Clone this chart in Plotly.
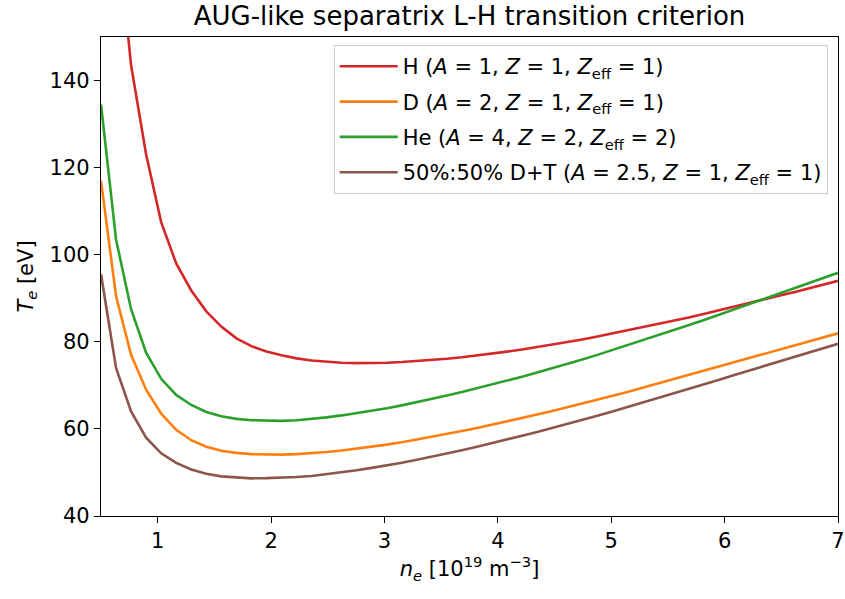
import numpy as np
import plotly.graph_objects as go

# Separatrix density grid [1e19 m^-3]
n_e = np.linspace(0.5, 7.0, 50)

# Threshold separatrix temperature [eV] for each species
te_H = [230.0, 178.0, 143.5, 123.0, 107.5, 98.0, 91.8, 87.0, 83.5, 80.8,
        79.0, 77.8, 76.9, 76.2, 75.7, 75.4, 75.2, 75.1, 75.1, 75.2,
        75.35, 75.55, 75.8, 76.1, 76.45, 76.85, 77.3, 77.75, 78.25, 78.8,
        79.35, 79.95, 80.55, 81.2, 81.9, 82.6, 83.3, 84.05, 84.8, 85.55,
        86.35, 87.15, 87.95, 88.8, 89.65, 90.5, 91.35, 92.25, 93.1, 94.0]

te_D = [117.0, 90.5, 77.0, 69.0, 63.5, 59.8, 57.4, 55.9, 55.0, 54.5,
        54.2, 54.1, 54.1, 54.2, 54.4, 54.7, 55.05, 55.45, 55.9, 56.4,
        56.95, 57.55, 58.15, 58.8, 59.5, 60.2, 60.95, 61.7, 62.5, 63.3,
        64.1, 64.95, 65.8, 66.7, 67.6, 68.5, 69.45, 70.4, 71.35, 72.3,
        73.25, 74.2, 75.2, 76.15, 77.1, 78.1, 79.05, 80.0, 81.0, 81.95]

te_He = [134.5, 103.5, 87.5, 77.5, 71.5, 67.8, 65.5, 63.9, 62.9, 62.3,
         62.0, 61.85, 61.85, 62.0, 62.3, 62.65, 63.1, 63.6, 64.15, 64.75,
         65.4, 66.1, 66.85, 67.65, 68.45, 69.3, 70.2, 71.1, 72.0, 72.95,
         73.9, 74.9, 75.95, 77.0, 78.1, 79.2, 80.3, 81.45, 82.6, 83.75,
         84.9, 86.1, 87.3, 88.5, 89.7, 90.9, 92.1, 93.35, 94.6, 95.85]

te_DT = [95.5, 74.0, 64.0, 58.0, 54.4, 52.2, 50.7, 49.7, 49.1, 48.8,
         48.65, 48.7, 48.75, 48.95, 49.2, 49.6, 50.0, 50.5, 51.05, 51.6,
         52.25, 52.9, 53.6, 54.35, 55.1, 55.9, 56.7, 57.55, 58.45, 59.3,
         60.2, 61.1, 62.05, 63.0, 64.0, 65.0, 66.0, 67.05, 68.1, 69.1,
         70.15, 71.15, 72.25, 73.3, 74.3, 75.4, 76.4, 77.45, 78.55, 79.55]

labels = [
    "H (<i>A</i> = 1, <i>Z</i> = 1, <i>Z</i><sub>eff</sub> = 1)",
    "D (<i>A</i> = 2, <i>Z</i> = 1, <i>Z</i><sub>eff</sub> = 1)",
    "He (<i>A</i> = 4, <i>Z</i> = 2, <i>Z</i><sub>eff</sub> = 2)",
    "50%:50% D+T (<i>A</i> = 2.5, <i>Z</i> = 1, <i>Z</i><sub>eff</sub> = 1)",
]
series = [te_H, te_D, te_He, te_DT]
colors = ["#d62728", "#ff7f0e", "#2ca02c", "#8c564b"]

fig = go.Figure()
for i, (lab, ys, c) in enumerate(zip(labels, series, colors)):
    fig.add_trace(go.Scatter(
        x=n_e, y=ys, mode="lines", name=lab,
        line=dict(color=c, width=2.6),
        legendgroup=f"g{i}",
    ))

FONT = "DejaVu Sans, Arial, sans-serif"

axis_common = dict(
    showline=True, linecolor="black", linewidth=1.3, mirror=True,
    ticks="outside", ticklen=6, tickwidth=1.3, tickcolor="black",
    showgrid=False, zeroline=False, ticklabeloverflow="allow",
    automargin=False,
    tickfont=dict(family=FONT, size=21, color="black"),
)

fig.update_layout(
    width=845, height=599,
    margin=dict(l=101, r=7, t=37, b=83),
    paper_bgcolor="white", plot_bgcolor="white",
    font=dict(family=FONT, color="black"),
    title=dict(
        text="AUG-like separatrix L-H transition criterion",
        font=dict(family=FONT, size=26, color="black"),
        x=(101 + 838) / 2 / 845, xanchor="center",
        y=1 - 16 / 599, yanchor="middle",
    ),
    xaxis=dict(
        range=[0.5, 7.0], tickvals=[1, 2, 3, 4, 5, 6, 7],
        title=dict(text="<i>n<sub>e</sub></i> [10<sup>19</sup> m<sup>−3</sup>]",
                   font=dict(family=FONT, size=21), standoff=8),
        **axis_common,
    ),
    yaxis=dict(
        range=[40, 150], tickvals=[40, 60, 80, 100, 120, 140],
        title=dict(text="<i>T<sub>e</sub></i> [eV]",
                   font=dict(family=FONT, size=21), standoff=10),
        **axis_common,
    ),
    legend=dict(
        x=0.986, y=0.983, xanchor="right", yanchor="top",
        bgcolor="rgba(255,255,255,0.8)", bordercolor="#cccccc", borderwidth=1,
        font=dict(family=FONT, size=21, color="black"),
        tracegroupgap=5, itemwidth=58,
    ),
)

fig.write_html("out.html")
